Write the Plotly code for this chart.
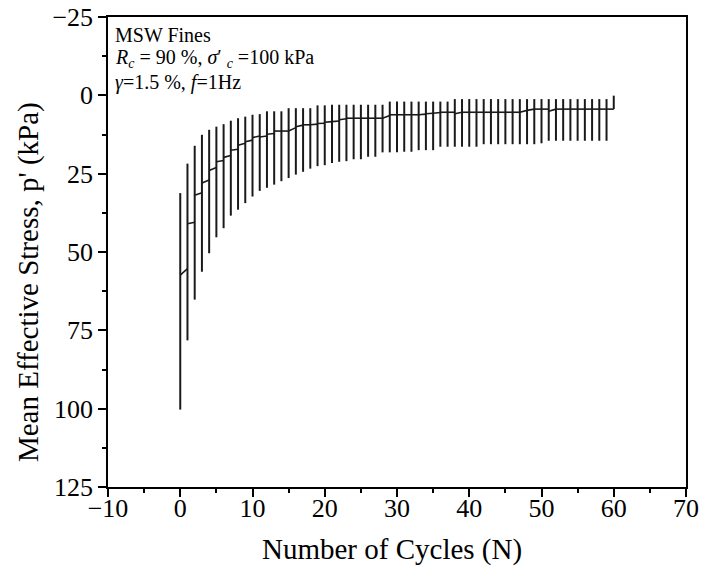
import plotly.graph_objects as go

# ---- data ----
cycles = list(range(61))
p_top = [31.2, 21.8, 16.1, 12.6, 11.0, 10.0, 9.2, 8.1, 7.3, 6.8,
         6.2, 6.0, 5.1, 5.1, 5.1, 4.1, 4.1, 4.1, 4.1, 3.2,
         3.2, 3.0, 3.0, 3.0, 3.0, 3.0, 3.0, 3.0, 3.0, 2.0,
         2.0, 2.0, 2.0, 2.0, 2.0, 2.0, 2.0, 2.0, 1.2, 1.2,
         1.2, 1.2, 1.2, 1.2, 1.2, 1.2, 1.2, 1.2, 1.2, 1.2,
         1.2, 1.2, 1.2, 1.2, 1.2, 1.2, 1.2, 1.2, 1.2, 1.2,
         0.1]
p_bottom = [100.3, 78.2, 65.2, 56.3, 50.4, 45.3, 42.4, 38.4, 36.5, 34.4,
            32.3, 30.5, 29.5, 28.5, 27.4, 26.4, 25.3, 24.4, 23.4, 22.6,
            22.3, 21.6, 21.2, 21.0, 20.4, 20.4, 19.6, 19.6, 18.2, 18.2,
            18.2, 18.0, 18.0, 17.5, 17.5, 17.5, 16.4, 16.4, 16.4, 16.4,
            16.4, 16.4, 15.6, 15.6, 15.6, 15.6, 15.6, 15.6, 15.6, 15.6,
            15.3, 14.5, 14.5, 14.5, 14.5, 14.5, 14.5, 14.5, 14.5, 14.5,
            4.4]
seg_start = [57.4, 41.0, 31.9, 28.0, 24.0, 21.2, 19.8, 17.5, 15.9, 14.8,
             13.5, 13.3, 12.4, 11.4, 11.4, 11.4, 10.0, 9.4, 9.4, 9.0,
             8.6, 8.4, 7.8, 7.3, 7.3, 7.3, 7.3, 7.3, 7.3, 6.2,
             6.2, 6.2, 6.2, 6.2, 5.9, 5.7, 5.4, 5.4, 5.9, 5.4,
             5.4, 5.4, 5.4, 5.4, 5.4, 5.4, 5.4, 5.4, 4.8, 4.4,
             4.4, 5.1, 4.4, 4.4, 4.4, 4.4, 4.4, 4.4, 4.4, 4.4]
seg_end = [55.3, 40.5, 31.1, 27.0, 23.0, 20.8, 19.2, 17.2, 15.3, 14.3,
           13.0, 13.0, 12.2, 11.4, 11.4, 10.3, 9.5, 9.4, 9.2, 8.9,
           8.4, 8.2, 7.5, 7.3, 7.3, 7.3, 7.3, 7.3, 6.4, 6.2,
           6.2, 6.2, 6.2, 6.0, 5.7, 5.5, 5.4, 5.4, 5.4, 5.4,
           5.4, 5.4, 5.4, 5.4, 5.4, 5.4, 5.4, 4.8, 4.4, 4.4,
           4.4, 4.4, 4.4, 4.4, 4.4, 4.4, 4.4, 4.4, 4.4, 4.4]

x_title = "Number of Cycles (N)"
y_title = "Mean Effective Stress, p' (kPa)"

# vertical per-cycle ranges
vx, vy = [], []
for n, t, b in zip(cycles, p_top, p_bottom):
    vx += [n, n, None]
    vy += [t, b, None]

# mean path segments between cycles
sx, sy = [], []
for i, (a, e) in enumerate(zip(seg_start, seg_end)):
    sx += [cycles[i], cycles[i + 1], None]
    sy += [a, e, None]

fig = go.Figure()
fig.add_trace(go.Scatter(x=vx, y=vy, mode="lines",
                         line=dict(color="#1a1a1a", width=2), showlegend=False,
                         hoverinfo="skip"))
fig.add_trace(go.Scatter(x=sx, y=sy, mode="lines",
                         line=dict(color="#1a1a1a", width=1.6), showlegend=False))

font_family = "Liberation Serif, Times New Roman, serif"
axis_common = dict(
    showgrid=False, zeroline=False, showline=True, linecolor="black",
    linewidth=1.5, mirror=True, ticks="outside", ticklen=8, tickwidth=1.5,
    tickcolor="black", tickfont=dict(family=font_family, size=26, color="black"),
    automargin=False,
)

fig.update_xaxes(range=[-10, 70], dtick=10, tick0=0, ticklabelstandoff=-11,
                 minor=dict(ticks="outside", ticklen=4, tickwidth=1.5,
                            tickcolor="black", dtick=5),
                 **axis_common)
fig.update_yaxes(range=[125, -25], dtick=25, tick0=0,
                 minor=dict(ticks="outside", ticklen=4, tickwidth=1.5,
                            tickcolor="black", dtick=12.5),
                 **axis_common)

title_font = dict(family=font_family, size=29, color="black")
# x-axis title
fig.add_annotation(text=x_title, xref="paper", yref="paper", x=0.5, y=0,
                   xanchor="center", yanchor="middle", xshift=-5, yshift=-62,
                   showarrow=False, font=title_font)
# y-axis title (placed as in the reference, slightly below centre)
fig.add_annotation(text=y_title, xref="paper", yref="paper", x=0, y=0.436,
                   xanchor="center", yanchor="middle", xshift=-80,
                   textangle=-90, showarrow=False, font=title_font)

ann_font = dict(family=font_family, size=20, color="black")
lines = [
    "MSW Fines",
    "<i>R</i><sub><i>c</i></sub> = 90 %, <i>σ</i>′ <sub><i>c</i></sub> =100 kPa",
    "<i>γ</i>=1.5 %, <i>f</i>=1Hz",
]
ys = [0.962, 0.911, 0.860]
for txt, yy in zip(lines, ys):
    fig.add_annotation(text=txt, xref="paper", yref="paper", x=0, y=yy,
                       xanchor="left", yanchor="middle", xshift=5,
                       showarrow=False, font=ann_font, align="left")

fig.update_layout(
    width=701, height=568,
    margin=dict(l=108, r=15, t=17, b=81),
    plot_bgcolor="white", paper_bgcolor="white",
    font=dict(family=font_family, color="black"),
)

fig.write_html("out.html")
